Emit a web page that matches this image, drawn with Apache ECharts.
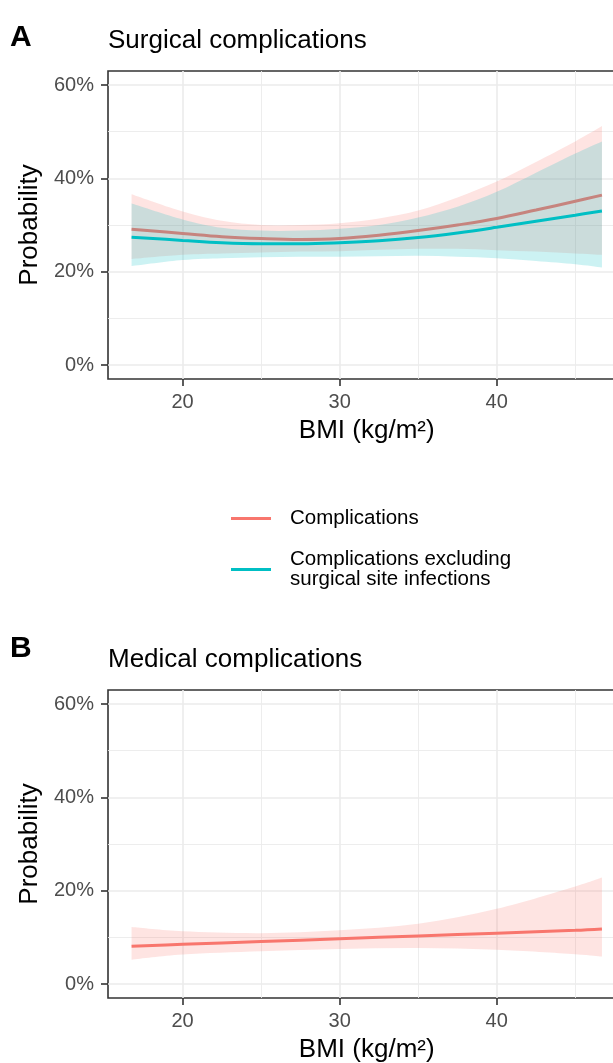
<!DOCTYPE html>
<html>
<head>
<meta charset="utf-8">
<script src="https://cdn.jsdelivr.net/npm/echarts@6/dist/echarts.min.js"></script>
<style>
  html, body { margin: 0; padding: 0; background: #fff; }
  #chart { width: 613px; height: 1063px; }
</style>
</head>
<body>
<div id="chart"></div>
<script>
// panel A: surgical complications (values in %)
const bmiA = [16.75, 20, 22.5, 25, 27.5, 30, 32.5, 35, 37.5, 40, 42.5, 45, 46.7];
const compA = [29.1, 28.2, 27.5, 27.1, 26.9, 27.1, 27.8, 28.8, 30.0, 31.4, 33.2, 35.1, 36.4];
const compHiA = [36.6, 32.9, 30.9, 30.0, 30.0, 30.4, 31.4, 33.1, 35.9, 39.3, 43.5, 47.9, 51.2];
const compLoA = [22.7, 23.6, 23.9, 24.1, 24.3, 24.4, 24.7, 24.9, 24.9, 24.6, 24.3, 23.9, 23.6];
const exclA = [27.4, 26.7, 26.2, 26.0, 26.0, 26.2, 26.6, 27.3, 28.3, 29.5, 30.8, 32.1, 33.0];
const exclHiA = [34.6, 31.2, 29.4, 28.8, 28.8, 29.2, 30.0, 31.6, 33.9, 37.1, 41.2, 45.3, 47.9];
const exclLoA = [21.2, 22.5, 22.9, 23.1, 23.2, 23.2, 23.3, 23.4, 23.2, 22.9, 22.3, 21.6, 20.9];

// panel B: medical complications (values in %)
const bmiB = [16.75, 20, 25, 30, 35, 40, 45, 46.7];
const compB = [8.1, 8.5, 9.1, 9.7, 10.3, 10.9, 11.5, 11.8];
const compHiB = [12.2, 11.3, 10.9, 11.5, 12.9, 16.1, 20.9, 22.8];
const compLoB = [5.2, 6.3, 7.0, 7.5, 7.7, 7.35, 6.4, 5.9];

const xTicks = [20, 30, 40];
const yTicks = [0, 20, 40, 60];
const nameComp = 'Complications';
const nameExcl = 'Complications excluding\nsurgical site infections';

const RED = '#F8766D';
const TEAL = '#00BFC4';
const FONT = '"Liberation Sans", Arial, sans-serif';

const chart = echarts.init(document.getElementById('chart'));

function xAxisFor(gi) {
  return {
    type: 'value', gridIndex: gi,
    min: 15.25, max: 48.2, minInterval: 10, maxInterval: 10,
    name: 'BMI (kg/m²)', nameLocation: 'middle', nameGap: 39,
    nameTextStyle: { fontSize: 26, color: '#000', fontFamily: FONT },
    axisLine: { show: false, onZero: false },
    axisTick: { show: true, length: 7, customValues: xTicks, lineStyle: { color: '#333', width: 1.6 } },
    axisLabel: { customValues: xTicks, margin: 13, fontSize: 20, color: '#4D4D4D', fontFamily: FONT },
    splitLine: { show: true, lineStyle: { color: '#EBEBEB', width: 1.6 } },
    minorTick: { show: false, splitNumber: 2 },
    minorSplitLine: { show: true, lineStyle: { color: '#EBEBEB', width: 0.9 } }
  };
}

function yAxisFor(gi) {
  return {
    type: 'value', gridIndex: gi,
    min: -3, max: 63, minInterval: 20, maxInterval: 20,
    name: 'Probability', nameLocation: 'middle', nameGap: 56,
    nameTextStyle: { fontSize: 26, color: '#000', fontFamily: FONT },
    axisLine: { show: false, onZero: false },
    axisTick: { show: true, length: 7, customValues: yTicks, lineStyle: { color: '#333', width: 1.6 } },
    axisLabel: { customValues: yTicks, margin: 14, fontSize: 20, color: '#4D4D4D', fontFamily: FONT, formatter: '{value}%' },
    splitLine: { show: true, lineStyle: { color: '#EBEBEB', width: 1.6 } },
    minorTick: { show: false, splitNumber: 2 },
    minorSplitLine: { show: true, lineStyle: { color: '#EBEBEB', width: 0.9 } }
  };
}

// smooth curve through projected points (catmull-rom as cubic beziers)
function curveThrough(pts) {
  let d = '';
  for (let i = 0; i < pts.length - 1; i++) {
    const p0 = pts[i - 1] || pts[i], p1 = pts[i], p2 = pts[i + 1], p3 = pts[i + 2] || pts[i + 1];
    const c1 = [p1[0] + (p2[0] - p0[0]) / 6, p1[1] + (p2[1] - p0[1]) / 6];
    const c2 = [p2[0] - (p3[0] - p1[0]) / 6, p2[1] - (p3[1] - p1[1]) / 6];
    d += 'C' + c1[0] + ',' + c1[1] + ' ' + c2[0] + ',' + c2[1] + ' ' + p2[0] + ',' + p2[1];
  }
  return d;
}

// confidence ribbon: one closed path, coordinates from the axis scales
function ribbon(gi, xs, lo, hi, color, z) {
  return {
    type: 'custom', xAxisIndex: gi, yAxisIndex: gi, z: z, silent: true,
    data: xs.map((x, i) => [x, lo[i], hi[i]]),
    encode: { x: 0, y: [1, 2] },
    renderItem: function (params, api) {
      if (params.dataIndex !== 0) return;
      const top = xs.map((x, i) => api.coord([x, hi[i]]));
      const bot = xs.map((x, i) => api.coord([x, lo[i]])).reverse();
      const d = 'M' + top[0][0] + ',' + top[0][1] + curveThrough(top) +
        'L' + bot[0][0] + ',' + bot[0][1] + curveThrough(bot) + 'Z';
      return {
        type: 'path',
        shape: { pathData: d },
        style: { fill: color }
      };
    }
  };
}

function line(gi, name, xs, ys, color, z) {
  return {
    type: 'line', name: name, xAxisIndex: gi, yAxisIndex: gi, z: z,
    data: xs.map((x, i) => [x, ys[i]]),
    smooth: 0.4, showSymbol: false, symbol: 'none', silent: true,
    color: color,
    lineStyle: { color: color, width: 3 }
  };
}

const gridBase = { left: 108, width: 517.5, height: 308, show: true,
  borderColor: '#333', borderWidth: 1.6, backgroundColor: 'transparent',
  containLabel: false, outerBoundsMode: 'none' };

const option = {
  animation: false,
  backgroundColor: '#fff',
  textStyle: { fontFamily: FONT },
  title: [
    { text: 'A', left: 10, top: 22.6, padding: 0, textStyle: { fontSize: 30, fontWeight: 'bold', color: '#000', fontFamily: FONT } },
    { text: 'Surgical complications', left: 108, top: 28.3, padding: 0, textStyle: { fontSize: 26, fontWeight: 'normal', color: '#000', fontFamily: FONT } },
    { text: 'B', left: 10, top: 634.2, padding: 0, textStyle: { fontSize: 30, fontWeight: 'bold', color: '#000', fontFamily: FONT } },
    { text: 'Medical complications', left: 108, top: 646.6, padding: 0, textStyle: { fontSize: 26, fontWeight: 'normal', color: '#000', fontFamily: FONT } }
  ],
  legend: {
    data: [nameComp, nameExcl],
    orient: 'vertical', left: 231, top: 508, padding: 0,
    itemWidth: 40, itemHeight: 3, itemGap: 20, icon: 'rect',
    selectedMode: false,
    textStyle: { fontSize: 20.5, lineHeight: 20, color: '#000', fontFamily: FONT, padding: [0, 0, 0, 14] }
  },
  grid: [
    Object.assign({ top: 71 }, gridBase),
    Object.assign({ top: 690 }, gridBase)
  ],
  xAxis: [xAxisFor(0), xAxisFor(1)],
  yAxis: [yAxisFor(0), yAxisFor(1)],
  series: [
    ribbon(0, bmiA, compLoA, compHiA, 'rgba(248,118,109,0.2)', 2),
    line(0, nameComp, bmiA, compA, RED, 3),
    ribbon(0, bmiA, exclLoA, exclHiA, 'rgba(0,191,196,0.2)', 4),
    line(0, nameExcl, bmiA, exclA, TEAL, 5),
    ribbon(1, bmiB, compLoB, compHiB, 'rgba(248,118,109,0.2)', 2),
    line(1, nameComp, bmiB, compB, RED, 3)
  ]
};

chart.setOption(option);
</script>
</body>
</html>
